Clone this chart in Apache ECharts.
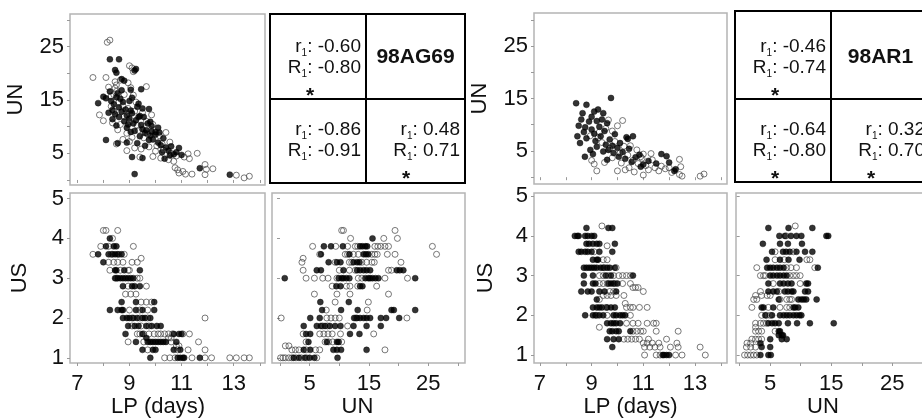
<!DOCTYPE html>
<html>
<head>
<meta charset="utf-8">
<script src="https://cdn.jsdelivr.net/npm/echarts@6/dist/echarts.min.js"></script>
<style>
html, body { margin: 0; padding: 0; background: #fff; }
#fig { width: 922px; height: 419px; }
</style>
</head>
<body>
<div id="fig"></div>
<script>
var myChart = echarts.init(document.getElementById('fig'));

// axis ticks and labels
var lpTicks = [7, 8, 9, 10, 11, 12, 13, 14];
var lpLabels = [7, 9, 11, 13];
var unTicks = [0, 5, 10, 15, 20, 25, 30];
var unLabels = [5, 15, 25];
var usTicks = [1, 2, 3, 4, 5];
var usLabels = [1, 2, 3, 4, 5];
var lpName = 'LP (days)';
var unName = 'UN';
var usName = 'US';

// ---- 98AG69 ----
// [LP, UN]
var agLpUnFilled = [
    [8.25,22.6],[8.6,22.6],[8.45,20.6],[8.5,20.1],[9.2,20.5],[9.25,20.8],[8.7,18.9],[8.8,18.6],
    [9.45,17.0],[9.05,16.9],[8.0,15.6],[8.1,15.3],[7.8,14.4],[8.1,7.5],[8.55,6.9],[9.75,13.3],
    [9.85,10.1],[10.1,9.8],[9.85,9.1],[11.7,2.2],[12.85,1.0],[9.2,1.1],
    [8.3,14.8],[8.4,14.2],[8.5,15.5],[8.6,13.6],[8.7,12.8],[8.75,14.6],[8.85,13.2],[8.9,12.1],
    [9.0,11.5],[9.0,14.8],[9.1,12.5],[9.15,10.6],[9.25,11.2],[9.3,13.7],[9.35,14.3],[9.4,12.0],
    [9.45,10.3],[9.5,9.5],[9.55,11.8],[9.6,8.8],[9.7,10.6],[9.8,8.3],[9.9,7.6],[10.0,8.5],
    [10.1,7.0],[10.2,6.5],[10.3,7.8],[10.4,6.1],[10.5,5.5],[10.6,6.3],[10.7,4.8],[10.8,5.2],
    [10.9,6.0],[11.0,4.7],[8.2,12.6],[8.35,11.4],[8.6,11.8],[8.55,16.2],[8.7,16.8],[8.9,9.8],
    [9.05,9.0],[9.3,6.9],[9.5,4.1],[9.1,4.3],[10.35,4.0],[9.6,6.4],[10.0,9.0],[8.9,7.0],
    [9.4,8.2],[9.75,7.5],[8.35,13.1],[8.45,12.3],[8.65,15.2],[8.8,11.0],[8.95,10.4],[9.05,13.0],
    [9.2,9.2],[9.35,11.8],[9.5,13.4],[9.65,9.3],[9.8,10.9],[10.15,8.9],[10.25,5.2],[10.55,4.6],
    [8.5,10.2],[8.25,16.6],[9.1,15.4]
];
var agLpUnOpen = [
    [8.25,26.2],[8.15,25.8],[7.6,19.2],[8.1,19.2],[9.0,21.4],[9.1,21.0],[9.15,20.3],[8.95,18.2],
    [8.45,18.4],[8.5,17.8],[8.45,17.2],[8.5,16.6],[9.65,17.5],[7.85,12.2],[8.0,11.1],[8.5,6.75],
    [8.9,8.75],[11.6,5.0],[11.9,2.9],[11.95,2.0],[11.9,1.0],[12.2,2.1],[13.1,0.9],[13.4,0.4],
    [13.6,0.7],[10.75,2.3],[10.85,1.9],[11.05,1.6],[11.15,1.1],[11.4,1.1],[10.9,1.3],[11.1,4.3],
    [11.3,4.0],[11.25,4.9],[10.5,3.8],[10.7,3.5],[10.2,4.1],[10.0,5.4],[9.9,4.4],[9.2,6.0],
    [9.0,7.2],[9.1,8.0],[8.9,5.5],[9.4,4.3],[8.8,11.9],[8.65,10.4],[8.4,12.9],[8.3,13.8],
    [8.6,14.6],[8.95,13.4],[9.15,15.9],[9.3,10.2],[9.5,12.6],[9.65,11.0],[9.85,12.2],[9.9,10.4],
    [10.15,8.3],[10.4,8.9],[10.25,6.8],[9.75,6.2],[10.55,7.1],[9.45,5.8],[10.8,4.5],[8.8,16.0],
    [8.3,15.7],[9.05,17.3],[8.65,18.7],[8.35,10.7],[8.55,9.4],[8.75,13.9],[9.0,10.9],[9.2,12.9],
    [9.35,9.3],[9.55,7.9],[9.7,8.6],[10.05,6.4],[10.3,5.6],[10.6,5.0],[8.2,17.4],[8.4,16.0],
    [9.25,14.6],[8.75,7.6]
];
// [US, [LP ...]]
var agLpUsFilled = [
    [4.0,[8.25]],
    [3.8,[8.1,8.4,8.5]],
    [3.6,[7.8,8.2,8.35,8.45,8.55,8.7]],
    [3.4,[8.0]],
    [3.2,[8.45,8.5,8.8,9.4]],
    [3.0,[8.45,8.55,8.65,8.75,8.85,8.95,9.05,9.15]],
    [2.8,[8.75,9.1,9.2,9.4]],
    [2.4,[8.7,9.25,9.95]],
    [2.2,[8.25,8.55,8.7,8.75,9.25,9.5,9.95]],
    [2.0,[8.75,8.9,9.0,9.15,9.3,9.5,9.6,9.8]],
    [1.8,[8.95,9.2,9.35,9.65,9.85,10.05,10.2]],
    [1.6,[8.85,9.5,10.7,10.9,11.0]],
    [1.5,[9.65]],
    [1.4,[9.25,9.7,9.8,9.9,10.0,10.1,10.2,10.3,10.4,10.8]],
    [1.2,[9.5,9.9,10.0,10.7,10.95]],
    [1.0,[9.8,10.85,10.95,11.05,11.1,11.7]]
];
var agLpUsOpen = [
    [4.2,[8.0,8.1,8.55]],
    [4.0,[8.35]],
    [3.8,[7.9,8.2,9.15]],
    [3.6,[7.6,8.3,8.6,8.8]],
    [3.5,[9.45]],
    [3.4,[8.2,8.4,8.55,8.75,9.1,9.3]],
    [3.2,[8.25,8.65,8.95,9.0]],
    [3.0,[8.5,9.3,9.4]],
    [2.8,[8.95,9.65]],
    [2.6,[8.85,9.05,9.25]],
    [2.4,[9.45,9.65,9.85]],
    [2.2,[9.0,9.4,9.7]],
    [2.0,[9.1,9.4,9.7,11.9]],
    [1.8,[9.1,9.45,9.75]],
    [1.6,[9.3,9.4,9.55,9.75,9.95,10.1,10.2,10.35,10.5,10.65,11.05,11.3]],
    [1.5,[10.5,10.6]],
    [1.4,[8.95,9.55,10.6,11.65]],
    [1.3,[10.8,10.9]],
    [1.2,[9.7,10.85,11.25,11.9]],
    [1.0,[10.35,10.55,10.75,11.4,11.9,12.15,12.85,13.1,13.4,13.6]]
];
// [US, [UN ...]]
var agUnUsFilled = [
    [4.0,[15.6]],
    [3.8,[7.4,8.6,10.6,13.5,13.9,14.4,14.7]],
    [3.6,[6.9,11.7,14.1,14.5,14.9]],
    [3.4,[8.2,9.6,10.2,12.4,13.0,13.4]],
    [3.2,[6.2,6.9,10.7,13.0,13.5,14.1,14.6,15.2,19.7,20.2,20.8]],
    [3.0,[0.8,9.9,10.4,10.7,11.2,11.7,14.4,14.9,15.2,15.6,16.1,16.6,22.8]],
    [2.8,[9.5,10.2,13.5,13.9]],
    [2.4,[6.8,11.6]],
    [2.2,[7.1,10.3,13.1,18.8,19.2,22.8]],
    [2.0,[5.1,6.7,12.5,13.0,13.5,14.1,14.6,15.2,17.0,17.9,20.1]],
    [1.8,[4.0,6.2,6.9,7.6,8.4,9.3,10.2,12.4,14.6,17.0]],
    [1.6,[4.4,5.1,11.8,13.4]],
    [1.4,[4.8,7.9,9.6,9.9]],
    [1.2,[4.0,5.1,9.0,9.6,10.3,14.6]],
    [1.0,[2.3,3.2,4.2,5.0,5.8,9.7]]
];
var agUnUsOpen = [
    [4.2,[10.4,10.7,19.4]],
    [4.0,[11.9,17.5,19.8]],
    [3.8,[5.5,9.4,11.4,12.7,13.1,16.0,16.5,17.0,17.7,18.3,25.7]],
    [3.6,[6.7,11.0,11.4,12.4,13.2,15.5,16.0,16.4,18.1,19.4,26.4]],
    [3.5,[3.9]],
    [3.4,[3.7,9.3,11.7,12.1,13.8,14.6,15.5,15.9,20.4]],
    [3.2,[3.9,10.0,11.7,12.7,18.3,18.8]],
    [3.0,[4.4,5.8,7.2,8.1,9.6,13.2,13.8,17.7,21.5]],
    [2.8,[8.8,11.2,11.8,13.1,16.3]],
    [2.6,[5.8,9.6,11.8,18.3]],
    [2.4,[9.3,14.9]],
    [2.2,[7.8,14.7]],
    [2.0,[0.2,7.9,8.6,9.3,10.0,12.8,21.4]],
    [1.8,[7.2,8.0,11.4]],
    [1.6,[3.9,6.7,7.4,8.1,8.8,10.2,15.8]],
    [1.4,[4.4,7.6,8.2,8.9,10.4]],
    [1.3,[0.9,1.5]],
    [1.2,[2.0,2.6,3.2,4.4,6.0,6.7,17.7]],
    [1.0,[0.1,0.5,0.9,1.5,2.0,2.7,3.6,4.5,6.2]]
];
var agTitle = '98AG69';
// [r1, R1, significant] for LP-UN, LP-US, UN-US
var agCorr = [['-0.60', '-0.80', true], ['-0.86', '-0.91', false], ['0.48', '0.71', true]];

// ---- 98AR1 ----
var arLpUnFilled = [
    [8.4,14.1],[8.8,13.8],[9.75,15.1],[9.1,12.5],[9.45,12.2],[8.5,9.8],[8.75,9.5],[9.0,9.1],
    [9.2,10.7],[8.74,3.9],[10.35,7.6],[10.4,7.3],[8.6,11.0],[8.7,8.6],[8.8,7.4],[8.9,10.6],
    [9.0,11.5],[9.1,8.3],[9.15,6.9],[9.2,5.8],[9.3,9.6],[9.35,7.8],[9.4,11.0],[9.5,8.8],
    [9.55,6.2],[9.6,10.3],[9.65,5.2],[9.7,7.2],[9.8,6.0],[9.85,4.6],[9.9,8.2],[10.0,5.6],
    [10.05,3.9],[10.1,6.5],[10.2,4.8],[10.3,3.5],[10.45,5.4],[10.55,2.9],[10.7,3.8],[10.85,4.3],
    [11.0,2.4],[11.7,4.4],[11.9,4.0],[12.0,2.8],[12.2,1.2],[12.25,1.5],[8.55,6.5],[8.65,12.2],
    [8.95,5.2],[9.05,4.4],[9.25,12.9],[9.45,4.9],[9.6,3.3],[8.45,7.8],[10.6,7.8],[11.2,3.1],
    [10.9,2.0],[11.5,2.6]
];
var arLpUnOpen = [
    [10.2,10.8],[10.0,9.8],[9.3,8.6],[9.55,9.3],[9.8,8.8],[9.4,6.6],[9.7,5.5],[9.9,6.8],
    [10.1,4.6],[10.25,5.9],[10.4,4.2],[10.5,6.0],[10.6,3.2],[10.75,5.2],[10.8,2.6],[10.95,3.6],
    [11.0,4.4],[11.1,2.2],[11.3,4.5],[11.35,3.3],[11.45,1.8],[11.6,1.2],[11.7,2.1],[11.85,1.6],
    [12.1,0.9],[12.4,3.4],[12.45,2.0],[12.4,0.5],[12.5,0.2],[13.2,0.2],[13.35,0.6],[9.2,1.2],
    [9.0,3.2],[9.1,2.5],[10.0,1.2],[10.3,1.4],[11.0,0.4],[9.5,2.8],[9.8,3.7],[10.15,2.7],
    [10.45,1.8],[10.65,1.0],[9.25,7.5],[9.65,10.9],[8.95,7.9],[11.2,1.4],[10.9,3.9],[12.0,1.8]
];
var arLpUsFilled = [
    [4.2,[8.8,9.65,9.8]],
    [4.0,[8.35,8.45,8.5,8.75,8.85,9.0,9.1]],
    [3.8,[8.8,8.9,9.05,9.2,9.3,9.9]],
    [3.6,[8.5,8.6,8.75,8.85,9.0,9.3,9.8]],
    [3.4,[9.05,9.2,9.25]],
    [3.2,[8.7,8.8,8.9,9.0,9.1,9.2,9.35,9.45,9.6,9.7,9.9]],
    [3.0,[8.7,9.05,9.55,9.75,10.6]],
    [2.8,[8.7,9.05,9.15,9.65,9.75,9.85,10.0]],
    [2.6,[8.6,8.85,9.0,9.3,9.5,9.95]],
    [2.4,[9.2]],
    [2.2,[9.05,9.2,9.3,9.4,9.6,9.75,9.9]],
    [2.0,[8.75,9.05,9.15,9.3,9.45,9.85,9.95,10.1,10.2,10.3]],
    [1.8,[9.6,9.75,9.85,9.95,10.1]],
    [1.6,[9.7,9.8,9.95,10.05,10.5]],
    [1.4,[9.6,9.85,10.05]],
    [1.2,[9.8]],
    [1.0,[11.75,11.8,11.9,12.0]]
];
var arLpUsOpen = [
    [4.25,[9.4]],
    [3.75,[9.6]],
    [3.6,[9.1]],
    [3.4,[9.45,9.6]],
    [3.2,[9.5,9.95]],
    [3.0,[9.3,9.45,9.65,9.85,10.05,10.2,10.35,10.5]],
    [2.8,[9.3,9.45,9.6,9.9,10.2,10.5]],
    [2.7,[10.6,10.7,10.8]],
    [2.6,[9.7,9.85,11.0]],
    [2.5,[9.45,9.6,9.75,9.95,10.25]],
    [2.4,[9.3]],
    [2.3,[10.3]],
    [2.2,[9.55,10.35,10.5,10.6,10.85,11.15]],
    [2.0,[9.2,9.6,10.5]],
    [1.8,[10.35,10.6,10.8,11.15,11.4,11.5]],
    [1.7,[9.3]],
    [1.6,[10.6,10.75,10.9,11.0,11.5,12.35]],
    [1.4,[10.25,10.4,10.55,10.7,10.85,11.2,11.9]],
    [1.3,[11.0,11.15,11.35,11.6,12.3]],
    [1.2,[11.05,11.25,11.45,11.65,12.05,12.35,13.2]],
    [1.0,[11.05,11.5,11.65,12.25,12.5,13.4]]
];
var arUnUsFilled = [
    [4.2,[4.7,8.0,11.9]],
    [4.0,[6.5,7.4,8.4,9.3,10.1,14.2,14.5]],
    [3.8,[3.8,6.6,7.9,10.2]],
    [3.6,[5.3,7.1,7.6,8.2,9.3,10.7,11.9]],
    [3.4,[4.4,6.6,8.0,9.8]],
    [3.2,[4.5,5.0,5.5,6.1,6.6,7.2,12.8]],
    [3.0,[5.0,5.5,6.1,6.6,7.2,7.7]],
    [2.8,[4.7,6.6,7.2,7.9,8.5,10.9,11.2]],
    [2.6,[4.7,5.5,6.1,7.4,7.9,8.5,8.8,10.7,11.2]],
    [2.4,[6.4,9.6,10.1,10.5,10.9,12.6]],
    [2.2,[3.6,3.9,5.5,8.8,9.1,9.6]],
    [2.0,[4.2,5.3,6.6,7.2,7.7,8.2,8.8,9.3,9.8,10.1]],
    [1.8,[4.7,5.3,5.8,6.4,7.9,9.4,11.5,15.4]],
    [1.6,[6.4,6.6]],
    [1.5,[6.4,6.9,7.1]],
    [1.4,[5.0,6.9,7.7]],
    [1.3,[3.4]],
    [1.2,[3.6,5.0]],
    [1.0,[3.4,4.7,5.1]]
];
var arUnUsOpen = [
    [4.25,[9.1]],
    [4.0,[7.6]],
    [3.6,[5.8,8.8]],
    [3.4,[5.8,7.3,11.0,11.5]],
    [3.2,[2.8,7.7,8.4,9.3,12.3]],
    [3.0,[3.4,3.9,4.2,8.2,8.8,9.3,9.9]],
    [2.8,[5.5,9.9]],
    [2.6,[3.4,6.4]],
    [2.5,[2.6,3.6,4.5,5.0]],
    [2.4,[2.3,2.8,6.6,7.7,8.2,8.5]],
    [2.2,[2.0,4.7,6.6,7.7,8.2]],
    [2.0,[3.6,4.4,5.0]],
    [1.8,[2.6,3.4,3.9,4.4]],
    [1.7,[2.6]],
    [1.6,[2.6,3.1,3.6,5.8]],
    [1.4,[2.0,2.6,3.1,3.6]],
    [1.3,[1.2,1.8]],
    [1.2,[1.1,1.8,2.6]],
    [1.0,[0.8,1.3,1.8,2.3,2.8]]
];
var arTitle = '98AR1';
var arCorr = [['-0.46', '-0.74', true], ['-0.64', '-0.80', true], ['0.32', '0.70', true]];

var fontFamily = '"Liberation Sans", Arial, Helvetica, sans-serif';

// [US, [v...]] -> [[v, US], ...]
function rows(list) {
    var out = [];
    for (var i = 0; i < list.length; i++) {
        for (var j = 0; j < list[i][1].length; j++) {
            out.push([list[i][1][j], list[i][0]]);
        }
    }
    return out;
}

var grids = [
    {left: 70,  top: 14,  width: 195, height: 171},
    {left: 70,  top: 193, width: 195, height: 170},
    {left: 272, top: 193, width: 193, height: 170},
    {left: 534, top: 13,  width: 193, height: 171},
    {left: 534, top: 193, width: 193, height: 170},
    {left: 736, top: 193, width: 193, height: 170}
];
grids.forEach(function (g) {
    g.show = true;
    g.borderColor = '#b4b4b4';
    g.borderWidth = 1.5;
    g.backgroundColor = 'transparent';
    g.outerBoundsMode = 'none';
    g.containLabel = false;
});

function axis(gi, min, max, ticks, labels, showLabels, margin, name, nameGap, namePad) {
    return {
        type: 'value',
        gridIndex: gi,
        min: min,
        max: max,
        axisLine: {show: false},
        splitLine: {show: false},
        axisTick: {
            show: true,
            inside: false,
            length: 3,
            customValues: ticks,
            lineStyle: {color: '#999', width: 1}
        },
        axisLabel: {
            show: showLabels,
            customValues: labels,
            margin: margin,
            color: '#111',
            fontFamily: fontFamily,
            fontSize: 22
        },
        name: name || '',
        nameLocation: 'middle',
        nameGap: nameGap || 0,
        nameTextStyle: {
            color: '#111',
            fontFamily: fontFamily,
            fontSize: 22,
            padding: namePad || 0
        }
    };
}

var xAxes = [
    axis(0, 6.72, 14.2, lpTicks, lpLabels, false, 10),
    axis(1, 6.72, 14.2, lpTicks, lpLabels, true, 10, lpName, 31, [0, 19, 0, 0]),
    axis(2, -1.35, 31.2, unTicks, unLabels, true, 10, unName, 31, [0, 22, 0, 0]),
    axis(3, 6.77, 14.24, lpTicks, lpLabels, false, 10),
    axis(4, 6.77, 14.24, lpTicks, lpLabels, true, 10, lpName, 31),
    axis(5, -0.6, 31, unTicks, unLabels, true, 10, unName, 31, [0, 19, 0, 0])
];
var yAxes = [
    axis(0, -0.94, 31.1, unTicks, unLabels, true, 6, unName, 43),
    axis(1, 0.87, 5.14, usTicks, usLabels, true, 6, usName, 39),
    axis(2, 0.87, 5.14, usTicks, usLabels, false, 6),
    axis(3, -1.3, 31.3, unTicks, unLabels, true, 6, unName, 43),
    axis(4, 0.8, 5.08, usTicks, usLabels, true, 6, usName, 37),
    axis(5, 0.8, 5.08, usTicks, usLabels, false, 6)
];

var openStyle = {color: 'transparent', borderColor: '#444', borderWidth: 0.9};
var filledStyle = {color: '#000', borderColor: '#000', borderWidth: 0.5};

var panels = [
    [agLpUnOpen, agLpUnFilled],
    [rows(agLpUsOpen), rows(agLpUsFilled)],
    [rows(agUnUsOpen), rows(agUnUsFilled)],
    [arLpUnOpen, arLpUnFilled],
    [rows(arLpUsOpen), rows(arLpUsFilled)],
    [rows(arUnUsOpen), rows(arUnUsFilled)]
];
var series = [];
panels.forEach(function (p, gi) {
    series.push({
        type: 'scatter', xAxisIndex: gi, yAxisIndex: gi, symbol: 'circle', symbolSize: 6,
        itemStyle: openStyle, data: p[0], silent: true
    });
    series.push({
        type: 'scatter', xAxisIndex: gi, yAxisIndex: gi, symbol: 'circle', symbolSize: 6,
        itemStyle: filledStyle, data: p[1], silent: true
    });
});

var corrRich = {
    t: {fontSize: 19, fontFamily: fontFamily, color: '#111', lineHeight: 22, verticalAlign: 'middle'},
    s: {fontSize: 10, fontFamily: fontFamily, color: '#111', lineHeight: 10, verticalAlign: 'bottom'}
};

function corrLine(letter, val) {
    return '{t|' + letter + '}{s|1}{t|: ' + val + '}';
}

function textEl(x, y, str, align, extra) {
    var st = {
        text: str,
        align: align, verticalAlign: 'middle',
        textAlign: align, textVerticalAlign: 'middle',
        fill: '#111',
        fontFamily: fontFamily,
        fontSize: 19
    };
    for (var k in extra) st[k] = extra[k];
    return {type: 'text', x: x, y: y, z: 100, style: st};
}

function corrTable(x0, y0, w, h, dx, dy, title, corr) {
    var els = [];
    var xm = x0 + dx, ym = y0 + dy, x1 = x0 + w, y1 = y0 + h;
    var line = {stroke: '#000', lineWidth: 2};
    els.push({type: 'rect', z: 100, shape: {x: x0, y: y0, width: w, height: h},
        style: {fill: 'none', stroke: '#000', lineWidth: 2}});
    els.push({type: 'line', z: 100, shape: {x1: xm, y1: y0, x2: xm, y2: y1}, style: line});
    els.push({type: 'line', z: 100, shape: {x1: x0, y1: ym, x2: x1, y2: ym}, style: line});
    els.push(textEl((xm + x1) / 2, ym - 42, title, 'center', {fontSize: 21, fontWeight: 'bold'}));
    var cells = [[x0, xm, ym - 52], [x0, xm, ym + 31], [xm, x1, ym + 31]];
    for (var i = 0; i < cells.length; i++) {
        var c = cells[i];
        els.push(textEl(c[1] - 5, c[2], corrLine('r', corr[i][0]), 'right', {rich: corrRich}));
        els.push(textEl(c[1] - 5, c[2] + 21, corrLine('R', corr[i][1]), 'right', {rich: corrRich}));
        if (corr[i][2]) {
            els.push(textEl(c[0] + 40, c[2] + 49, '*', 'center', {fontSize: 21, fontWeight: 'bold'}));
        }
    }
    return els;
}

var graphics = corrTable(270, 14, 195, 169, 96, 85, agTitle, agCorr)
    .concat(corrTable(735, 11, 195, 171, 96, 88, arTitle, arCorr));

option = {
    backgroundColor: '#fff',
    animation: false,
    grid: grids,
    xAxis: xAxes,
    yAxis: yAxes,
    series: series,
    graphic: {elements: graphics}
};

myChart.setOption(option);
</script>
</body>
</html>
